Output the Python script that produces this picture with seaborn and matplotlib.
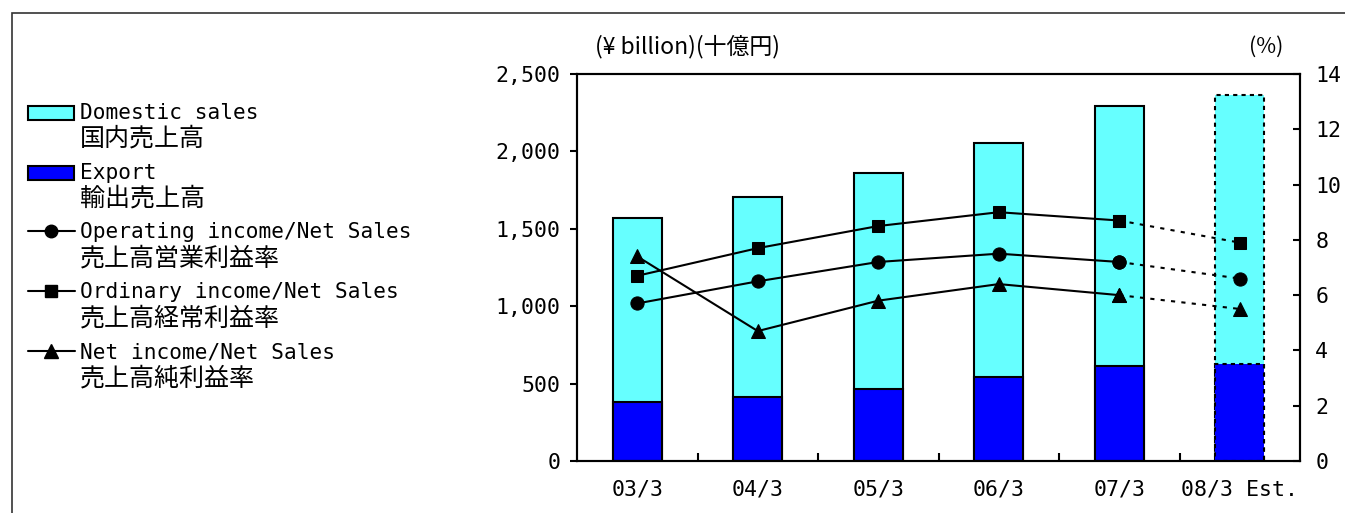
import numpy as np
import pandas as pd
import matplotlib
matplotlib.use("Agg")
import matplotlib.pyplot as plt
import seaborn as sns
from matplotlib.patches import Rectangle
from matplotlib.lines import Line2D
from matplotlib.ticker import FuncFormatter

# ---- data ----
periods = ["03/3", "04/3", "05/3", "06/3", "07/3", "08/3 Est."]
domestic = [1189, 1292, 1395, 1511, 1678, 1740]
export = [381, 413, 465, 543, 615, 625]
op_margin = [5.7, 6.5, 7.2, 7.5, 7.2, 6.6]
ord_margin = [6.7, 7.7, 8.5, 9.0, 8.7, 7.9]
net_margin = [7.4, 4.7, 5.8, 6.4, 6.0, 5.5]
left_ticks = [0, 500, 1000, 1500, 2000, 2500]
right_ticks = [0, 2, 4, 6, 8, 10, 12, 14]

legend_en = ["Domestic sales", "Export", "Operating income/Net Sales",
             "Ordinary income/Net Sales", "Net income/Net Sales"]
legend_ja = ["国内売上高", "輸出売上高", "売上高営業利益率", "売上高経常利益率", "売上高純利益率"]

sns.set_style("white")
plt.rcParams['font.family'] = ['DejaVu Sans Mono', 'Noto Sans CJK JP']
plt.rcParams['text.color'] = 'black'

W, H = 1345, 513
fig = plt.figure(figsize=(W / 100, H / 100), dpi=100)

def fx(x):
    return x / W

def fy(y):
    return 1 - y / H

ax = fig.add_axes([fx(577), fy(461), (1300 - 577) / W, (461 - 74) / H])

total = [d + e for d, e in zip(domestic, export)]
df = pd.DataFrame({"period": periods, "total": total, "export": export})

sns.barplot(data=df, x="period", y="total", color="#66FFFF", saturation=1,
            edgecolor="black", linewidth=1.5, width=0.41, errorbar=None, ax=ax)
sns.barplot(data=df, x="period", y="export", color="#0000FF", saturation=1,
            edgecolor="black", linewidth=1.5, width=0.41, errorbar=None, ax=ax)

n = len(periods)
bars = ax.patches
for i in (n - 1, 2 * n - 1):
    bars[i].set_linestyle((0, (2, 2)))

ax2 = ax.twinx()
xs = np.arange(n)
series = [(op_margin, "o", 9.5), (ord_margin, "s", 9), (net_margin, "^", 10)]
for vals, m, ms in series:
    sns.lineplot(x=xs[:n - 1], y=vals[:n - 1], color="black", linewidth=1.5,
                 marker=m, markersize=ms, markeredgecolor="black",
                 markerfacecolor="black", ax=ax2)
    sns.lineplot(x=xs[n - 2:], y=vals[n - 2:], color="black", linewidth=1.5,
                 linestyle=(0, (2, 3)), marker=m, markersize=ms,
                 markeredgecolor="black", markerfacecolor="black", ax=ax2)

ax.set_xlim(-0.5, n - 0.5)
ax.set_ylim(0, 2500)
ax2.set_ylim(0, 14)
ax.set_xlabel("")
ax.set_ylabel("")
ax2.set_ylabel("")

ax.set_yticks(left_ticks)
ax.yaxis.set_major_formatter(FuncFormatter(lambda v, p: f"{int(v):,}"))
ax2.set_yticks(right_ticks)
ax.set_xticks(xs)
ax.set_xticklabels(periods)
ax.set_xticks(xs[:-1] + 0.5, minor=True)

ax.tick_params(axis='y', direction='out', length=5, width=1.5, pad=7,
               labelsize=15.5, colors='black', left=True)
ax.tick_params(axis='x', which='major', length=0, pad=13, labelsize=15.5,
               colors='black')
ax.tick_params(axis='x', which='minor', direction='in', length=6, width=1.5,
               bottom=True, color='black')
ax2.tick_params(axis='y', direction='in', length=5, width=1.5, pad=11,
                labelsize=15.5, colors='black', right=True)

for a in (ax, ax2):
    for s in a.spines.values():
        s.set_visible(True)
        s.set_color("black")
        s.set_linewidth(1.5)
ax.grid(False)
ax2.grid(False)

# unit labels
fig.text(fx(595), fy(47), "(¥ billion)(十億円)", family=['Noto Sans CJK JP'],
         fontsize=16.5, va='center', ha='left')
fig.text(fx(1249), fy(47), "(%)", family=['Noto Sans CJK JP'],
         fontsize=15.5, va='center', ha='left')

# legend (drawn manually so the key aligns with the first text line)
en_y = [113, 173, 232, 292, 352]
ja_y = [139, 199, 259, 318, 378]
patch_cols = ["#66FFFF", "#0000FF"]
for i in range(2):
    fig.add_artist(Rectangle((fx(28), fy(en_y[i] + 7)), (74 - 28) / W, 14 / H,
                             facecolor=patch_cols[i], edgecolor="black",
                             linewidth=1.5, transform=fig.transFigure))
for j, (vals, m, ms) in enumerate(series):
    yy = en_y[2 + j] - 1
    fig.add_artist(Line2D([fx(28), fx(75)], [fy(yy), fy(yy)], color="black",
                          linewidth=1.5, transform=fig.transFigure))
    fig.add_artist(Line2D([fx(51)], [fy(yy)], marker=m, markersize=ms - 0.5,
                          color="black", transform=fig.transFigure))
for i in range(5):
    fig.text(fx(80), fy(en_y[i]), legend_en[i], fontsize=15.2, va='center',
             ha='left', color='black')
    fig.text(fx(80), fy(ja_y[i]), legend_ja[i], family=['Noto Sans CJK JP'],
             fontsize=18, va='center', ha='left', color='black')

# outer frame
fig.add_artist(Rectangle((fx(12), -0.2), 1.2, fy(13) + 0.2, fill=False,
                         edgecolor="#333333", linewidth=1.2,
                         transform=fig.transFigure, clip_on=False))

fig.savefig("out.png", dpi=100)
